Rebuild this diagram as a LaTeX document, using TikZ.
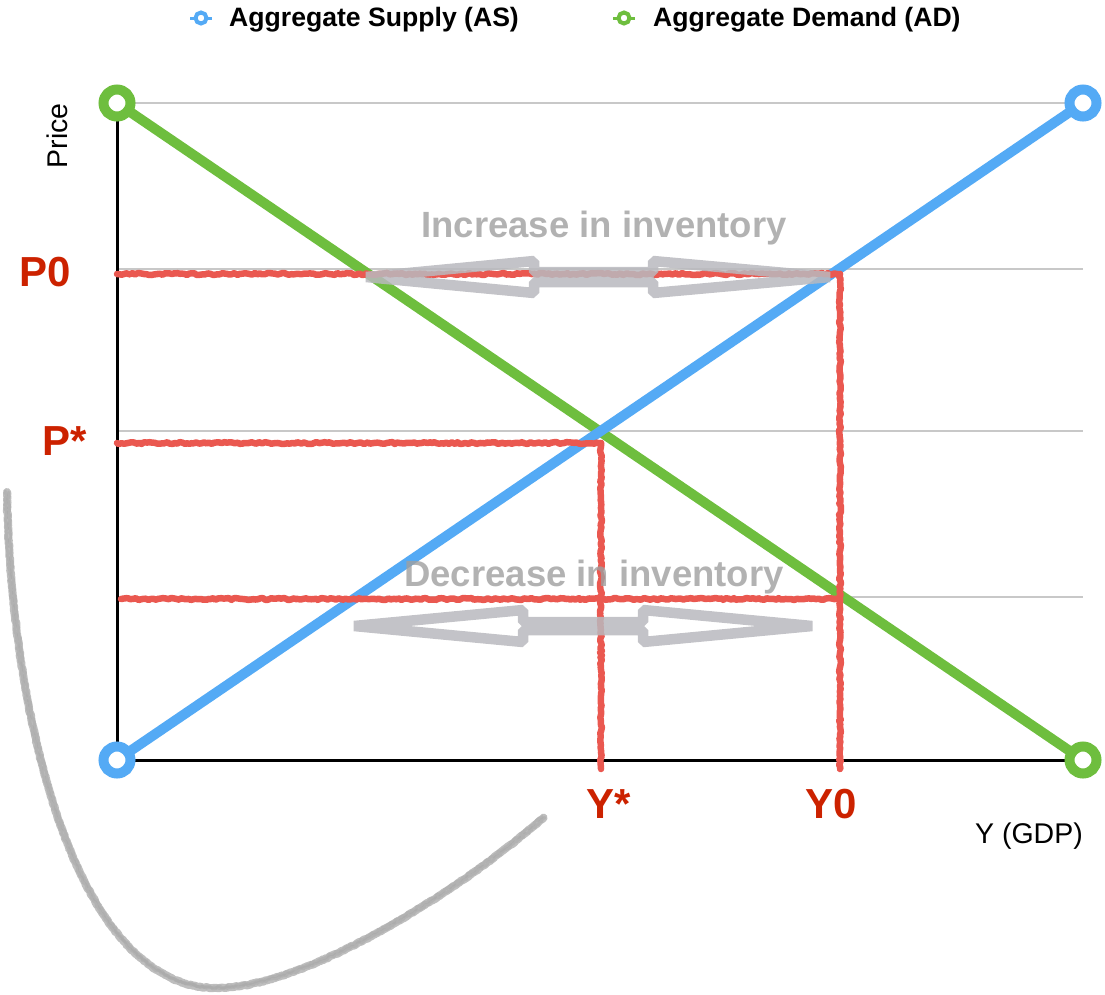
\documentclass[tikz,border=0pt]{standalone}
\usepackage{fontspec}
\setmainfont{Liberation Sans}
\usetikzlibrary{decorations.pathmorphing}
\definecolor{asblue}{RGB}{84,170,245}
\definecolor{adgreen}{RGB}{110,190,62}
\definecolor{labelred}{RGB}{204,34,0}
\definecolor{guidered}{RGB}{234,88,80}
\definecolor{gridgray}{RGB}{200,200,200}
\definecolor{arrowgray}{RGB}{185,185,190}
\definecolor{pencil}{RGB}{168,168,168}
\tikzset{
  gridline/.style={draw=gridgray, line width=1.2pt},
  axisline/.style={draw=black, line width=3pt},
  curveline/.style={line width=10pt, line cap=butt},
  endring/.style={circle, draw=#1, fill=white, line width=10pt, minimum size=27pt, inner sep=0pt},
  keyring/.style={circle, draw=#1, fill=white, line width=4pt, minimum size=11pt, inner sep=0pt},
  guide/.style={draw=guidered, line width=6.5pt, line join=round, line cap=round,
    decorate, decoration={random steps, segment length=2.5pt, amplitude=1pt}},
  flowarrow/.style={draw=arrowgray, line width=10.5pt, line join=bevel, draw opacity=0.85},
  flowtext/.style={text=gray!75, opacity=0.8, font=\bfseries\fontsize{36.5}{40}\selectfont},
  levellabel/.style={text=labelred, font=\bfseries\fontsize{42}{46}\selectfont, inner sep=0pt},
  keytext/.style={font=\bfseries\fontsize{26.6}{30}\selectfont, anchor=west, inner sep=0pt},
  axistext/.style={font=\fontsize{28.5}{32}\selectfont, inner sep=0pt},
  pencilstroke/.style={pencil, line cap=round, line join=round,
    decorate, decoration={random steps, segment length=1.5pt, amplitude=#1}},
}
\begin{document}
\begin{tikzpicture}[x=1pt, y=-1pt]
\useasboundingbox (0,0) rectangle (1105,994);

% reference points of the chart
\coordinate (O)  at (117,760);
\coordinate (TL) at (117,103);
\coordinate (TR) at (1083,103);
\coordinate (BR) at (1083,760);

% horizontal grid
\foreach \gy in {103,269,431,597}
  \draw[gridline] (117,\gy) -- (1083,\gy);

% axes
\draw[axisline] (TL) -- (O) -- (BR);

% demand and supply curves
\draw[curveline, draw=adgreen] (TL) -- (BR);
\draw[curveline, draw=asblue] (O) -- (TR);
\node[endring=adgreen] (adtop) at (TL) {};
\node[endring=adgreen] (adbot) at (BR) {};
\node[endring=asblue] (asbot) at (O) {};
\node[endring=asblue] (astop) at (TR) {};

% price / output guide lines
\coordinate (p0a) at (117,274);
\coordinate (p0b) at (840,274);
\coordinate (y0b) at (840,769);
\coordinate (psa) at (117,443);
\coordinate (psb) at (601,443);
\coordinate (ysb) at (601,769);
\coordinate (pla) at (121,599);
\coordinate (plb) at (840,599);
\draw[guide] (p0a) -- (p0b);
\draw[guide] (p0b) -- (y0b);
\draw[guide] (psa) -- (psb);
\draw[guide] (psb) -- (ysb);
\draw[guide] (pla) -- (plb);

% inventory arrows
\draw[flowarrow] (366,277) -- (534,261) -- (534,272) -- (653,272) -- (653,261)
  -- (830,277) -- (653,293) -- (653,282) -- (534,282) -- (534,293) -- cycle;
\draw[flowarrow] (354,626) -- (523,610) -- (523,622) -- (643,622) -- (643,610)
  -- (812,626) -- (643,642) -- (643,630) -- (523,630) -- (523,642) -- cycle;
\node[flowtext] (inc) at (604,228) {Increase in inventory};
\node[flowtext] (dec) at (594,577) {Decrease in inventory};

% level labels
\node[levellabel] (P0) at (45,272) {P0};
\node[levellabel] (Ps) at (65,441) {P*};
\node[levellabel] (Ys) at (609,804) {Y*};
\node[levellabel] (Y0) at (831,804) {Y0};

% axis titles
\node[axistext, rotate=90] (price) at (57,136) {Price};
\node[axistext] (gdp) at (1029,836) {Y (GDP)};

% legend
\draw[asblue, line width=3pt] (190,18) -- (212,18);
\node[keyring=asblue] (askey) at (201,18) {};
\node[keytext] (aslabel) at (229,20) {Aggregate Supply (AS)};
\draw[adgreen, line width=3pt] (613,18) -- (635,18);
\node[keyring=adgreen] (adkey) at (624,18) {};
\node[keytext] (adlabel) at (653,20) {Aggregate Demand (AD)};

% hand-drawn swoosh, built up from a few rough pencil passes
\def\swoosh{(7,492) .. controls (10,700) and (70,985) .. (214,988)
  .. controls (300,990) and (455,895) .. (543,818)}
\draw[pencilstroke=0.5pt, line width=8pt, opacity=0.75] \swoosh;
\draw[pencilstroke=1pt, line width=3pt, opacity=0.55, xshift=1.5pt] \swoosh;
\draw[pencilstroke=1pt, line width=3pt, opacity=0.55, xshift=-1.5pt, yshift=1pt] \swoosh;
\end{tikzpicture}
\end{document}
